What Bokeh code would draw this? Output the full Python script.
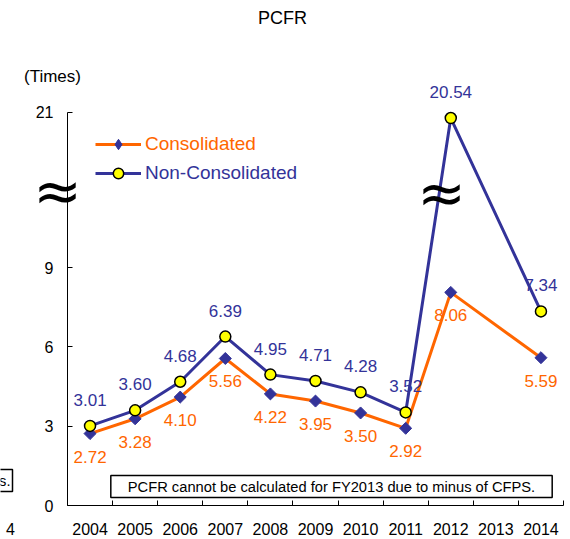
from bokeh.plotting import figure
from bokeh.models import (ColumnDataSource, Range1d, FixedTicker, LabelSet, Label,
                          Legend, LegendItem)
from bokeh.core.properties import value
from bokeh.embed import file_html
from bokeh.resources import INLINE

# ---------------- data ----------------
years = ["2004", "2005", "2006", "2007", "2008", "2009", "2010", "2011", "2012", "2013", "2014"]
consolidated = [2.72, 3.28, 4.10, 5.56, 4.22, 3.95, 3.50, 2.92, 8.06, None, 5.59]
non_consolidated = [3.01, 3.60, 4.68, 6.39, 4.95, 4.71, 4.28, 3.52, 20.54, None, 7.34]
y_ticks = [0, 3, 6, 9, 21]
break_low = 9            # axis is compressed above this value
title_text = "PCFR"
unit_text = "(Times)"
note_text = "PCFR cannot be calculated for FY2013 due to minus of CFPS."

ORANGE = "#FF6600"
NAVY = "#333399"
FONT = "Liberation Sans"

SQUEEZE = 0.49
def disp(v):
    return v if v <= break_low else break_low + (v - break_low) * SQUEEZE

def series(vals):
    xs, ys, labels = [], [], []
    for i, v in enumerate(vals):
        if v is None:
            continue
        xs.append(i)
        ys.append(disp(v))
        labels.append(f"{v:.2f}")
    return ColumnDataSource(dict(x=xs, y=ys, label=labels))

src_c = series(consolidated)
src_n = series(non_consolidated)

W, H = 570, 539
LEFT, BOTTOM = 67, 34          # pixel position of the axes inside the canvas
CAT_W = (W - 7 - LEFT) / len(years)
UNIT_H = 26.44
x0 = -0.5 - LEFT / CAT_W
x1 = -0.5 + (W - LEFT) / CAT_W
y0 = -BOTTOM / UNIT_H
y1 = (H - BOTTOM) / UNIT_H

p = figure(width=W, height=H, output_backend="svg", toolbar_location=None, title=None,
           x_range=Range1d(x0, x1), y_range=Range1d(y0, y1),
           min_border_left=0, min_border_right=0, min_border_top=0, min_border_bottom=0,
           background_fill_color="white", border_fill_color="white")
p.outline_line_color = None
p.xgrid.visible = False
p.ygrid.visible = False

# x axis: labels at centres, tick marks at category boundaries
xa = p.xaxis[0]
xa.fixed_location = 0
xa.ticker = FixedTicker(ticks=list(range(len(years))),
                        minor_ticks=[i - 0.5 for i in range(len(years) + 1)])
xa.major_label_overrides = {i: y for i, y in enumerate(years)}
xa.major_tick_in = 0
xa.major_tick_out = 0
xa.minor_tick_in = 5
xa.minor_tick_out = 0
xa.minor_tick_line_color = "black"
xa.axis_line_color = "black"
xa.bounds = (-0.5, len(years) - 0.5)
xa.major_label_text_font = FONT
xa.major_label_text_font_size = "16px"
xa.major_label_text_color = "black"
xa.major_label_standoff = 17

ya = p.yaxis[0]
ya.fixed_location = -0.5
ya.ticker = FixedTicker(ticks=[disp(t) for t in y_ticks], minor_ticks=[])
ya.major_label_overrides = {disp(t): str(t) for t in y_ticks}
ya.major_tick_in = 5
ya.major_tick_out = 0
ya.minor_tick_line_color = None
ya.axis_line_color = "black"
ya.bounds = (0, disp(y_ticks[-1]))
ya.major_label_text_font = FONT
ya.major_label_text_font_size = "16px"
ya.major_label_text_color = "black"
ya.major_label_standoff = 14

# series
lc = p.line("x", "y", source=src_c, line_color=ORANGE, line_width=3)
ln = p.line("x", "y", source=src_n, line_color=NAVY, line_width=3)
mc = p.scatter("x", "y", source=src_c, marker="square", angle=0.785398, size=8.5,
               fill_color=NAVY, line_color=NAVY)
mn = p.scatter("x", "y", source=src_n, marker="circle", size=11,
               fill_color="#FFFF00", line_color="black", line_width=1.5)
# diamond used only for the legend swatch
mc_leg = p.scatter("x", "y", source=src_c, marker="diamond", size=14,
                   fill_color=NAVY, line_color=NAVY, visible=False)

# data labels
p.add_layout(LabelSet(x="x", y="y", text="label", source=src_n, y_offset=26,
                      text_align="center", text_baseline="middle",
                      text_font=value(FONT), text_font_size=value("17px"), text_color=NAVY))
p.add_layout(LabelSet(x="x", y="y", text="label", source=src_c, y_offset=-23,
                      text_align="center", text_baseline="middle",
                      text_font=value(FONT), text_font_size=value("17px"), text_color=ORANGE))

# legends (one per series so each label keeps its own colour)
def make_legend(label, renderers, color, loc):
    lg = Legend(items=[LegendItem(label=label, renderers=renderers)], location=loc,
                orientation="vertical", padding=0, margin=0, spacing=0,
                glyph_width=46, glyph_height=26, label_height=26, label_standoff=4,
                label_text_font=FONT, label_text_font_size="19px", label_text_color=color,
                border_line_color=None, background_fill_alpha=0)
    lg.click_policy = "none"
    p.add_layout(lg, "center")

make_legend("Consolidated", [lc, mc_leg], ORANGE, (95, 382))
make_legend("Non-Consolidated", [ln, mn], NAVY, (95, 353))

def text(x, y, s, size, align="center", font=FONT, **kw):
    p.add_layout(Label(x=x, y=H - y, x_units="screen", y_units="screen", text=s,
                       text_align=align, text_baseline="middle",
                       text_font=font, text_font_size=size, text_color="black", **kw))

text(282, 17, title_text, "18px")
text(52, 76, unit_text, "17px")
text(331, 486, note_text, "14.7px",
     border_line_color="black", border_line_width=1.5, background_fill_color="white",
     padding=dict(left=17, right=17, top=3, bottom=3))
# fragments of the neighbouring chart at the left edge
text(10, 528, "4", "16px")
text(12, 480, "s.", "14.7px", align="right",
     border_line_color="black", border_line_width=1.5, background_fill_color="white",
     padding=dict(left=1, right=2, top=3, bottom=3))

# axis-break marks
for bx, by in [(57, 190), (441, 192)]:
    text(bx, by, "\u2248", "58px", font="DejaVu Sans")

open("out.html", "w").write(file_html(p, INLINE))
